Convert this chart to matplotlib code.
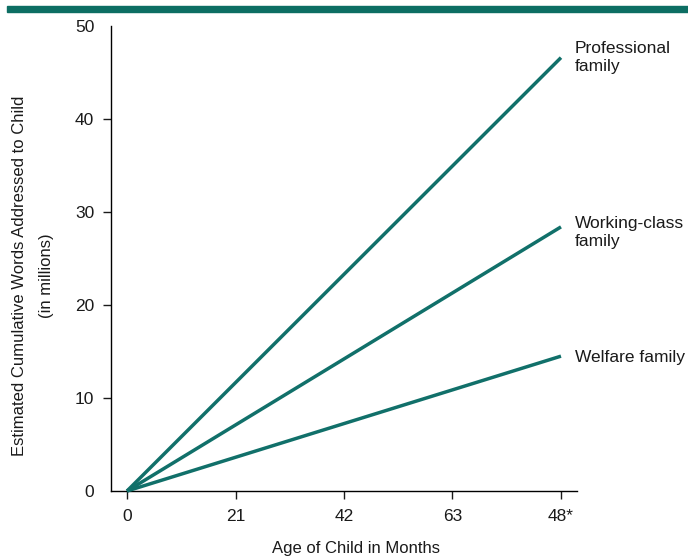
import matplotlib
matplotlib.use("Agg")
import matplotlib.pyplot as plt
from matplotlib.patches import Rectangle

# Data
months = [0, 84]
series_names = ["Professional\nfamily", "Working-class\nfamily", "Welfare family"]
professional = [0, 46.6]
working_class = [0, 28.4]
welfare = [0, 14.5]
x_ticks = [0, 21, 42, 63, 84]
x_tick_labels = ["0", "21", "42", "63", "48*"]
y_ticks = [0, 10, 20, 30, 40, 50]

teal = "#11706a"
text_color = "#1a1a1a"

plt.rcParams['font.family'] = ['Liberation Sans', 'DejaVu Sans']

fig = plt.figure(figsize=(6.88, 5.6), dpi=100)
ax = fig.add_axes([111/688, 1 - 491/560, (577-111)/688, (491-26)/560])

# top band
fig.patches.append(Rectangle((7/688, 1 - 12/560), 1 - 7/688, 6/560,
                             transform=fig.transFigure, color="#0d6e63", zorder=0))

offsets = [(10, 0), (10, -4), (10, -1)]
for vals, name, off in zip([professional, working_class, welfare], series_names, offsets):
    ax.plot(months, vals, color=teal, lw=2.5, solid_capstyle='butt', clip_on=False, zorder=3)
    ax.annotate(name, xy=(months[-1], vals[-1]), xytext=off, textcoords='offset points',
                ha='left', va='center', fontsize=12.5, color=text_color, linespacing=1.3,
                annotation_clip=False)

ax.set_xlim(-3.1, 87.1)
ax.set_ylim(0, 50)
ax.set_xticks(x_ticks)
ax.set_xticklabels(x_tick_labels)
ax.set_yticks(y_ticks)
ax.tick_params(axis='both', labelsize=12.5, colors=text_color, length=6, width=1, direction='out')
ax.tick_params(axis='x', pad=7)
ax.tick_params(axis='y', pad=6)
for t in ax.get_xticklines() + ax.get_yticklines():
    t.set_color('black')
ylines = ax.yaxis.get_major_ticks()
ylines[-1].tick1line.set_visible(False)
ylines[0].tick1line.set_visible(False)

for s in ['top', 'right']:
    ax.spines[s].set_visible(False)
for s in ['left', 'bottom']:
    ax.spines[s].set_color('black')
    ax.spines[s].set_linewidth(1)

fig.text(356/688, 1 - 548/560, "Age of Child in Months", ha='center', va='center',
         fontsize=12, color=text_color)
fig.text(20/688, 1 - 276/560, "Estimated Cumulative Words Addressed to Child",
         rotation=90, ha='center', va='center', fontsize=12, color=text_color)
fig.text(47/688, 1 - 276/560, "(in millions)",
         rotation=90, ha='center', va='center', fontsize=12, color=text_color)

fig.savefig("out.png", dpi=100)
